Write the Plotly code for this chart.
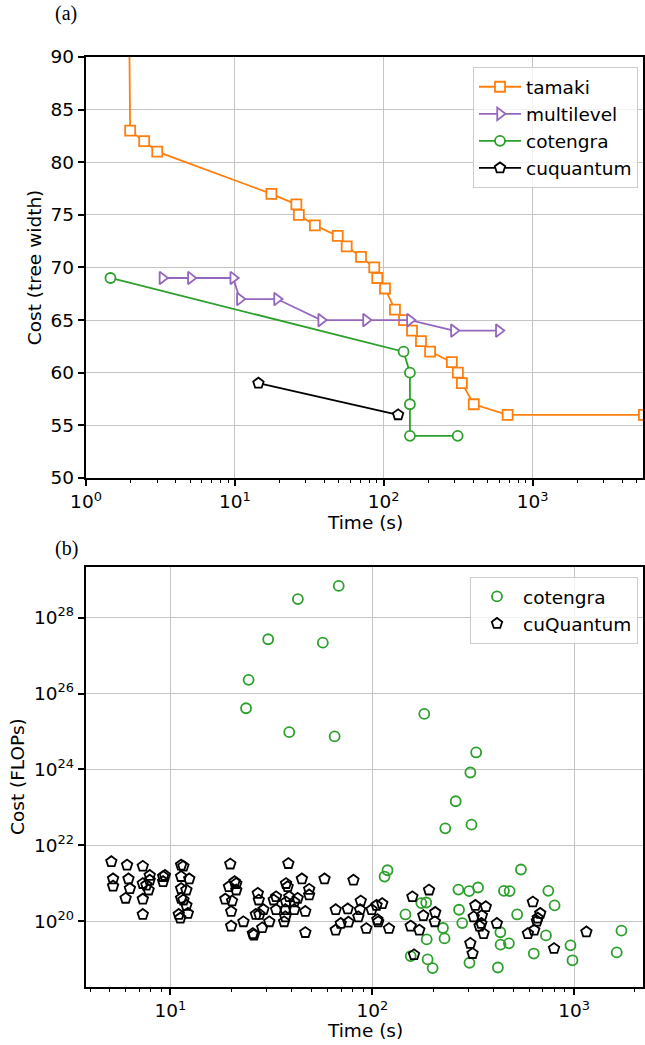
import plotly.graph_objects as go

# ---------------- (a) data ----------------
tamaki_t = [1.93, 1.98, 2.46, 3.01, 17.6, 25.9, 26.9, 34.5, 49.1, 56.4, 70.4, 86.4, 90.5, 102, 119,
            137, 155, 178, 205, 287, 315, 335, 403, 680, 5600]
tamaki_c = [100, 83, 82, 81, 77, 76, 75, 74, 73, 72, 71, 70, 69, 68, 66,
            65, 64, 63, 62, 61, 60, 59, 57, 56, 56]
multi_t = [3.26, 5.06, 9.75, 10.8, 19.2, 38, 76, 150, 296, 593]
multi_c = [69, 69, 69, 67, 67, 65, 65, 65, 64, 64]
cot_t = [1.46, 136, 150, 150, 150, 314]
cot_c = [69, 62, 60, 57, 54, 54]
cuq_t = [14.4, 125]
cuq_c = [59, 56]

# ---------------- (b) data ----------------
cotb_t = [68.2, 42.8, 30.5, 56.9, 24.4, 23.7, 38.8, 65.1, 181, 327, 306, 259, 230, 310,
          115, 119, 545, 267, 302, 334, 449, 479, 745, 800, 175, 185, 269, 146, 522, 279,
          224, 228, 186, 431, 432, 475, 725, 959, 981, 631, 419, 303, 199, 188, 155, 1715, 1625]
cotb_f = [6.9e28, 3.1e28, 2.7e27, 2.2e27, 2.3e26, 4.1e25, 9.6e24, 7.4e24, 2.9e25, 2.8e24, 8.3e23,
          1.45e23, 2.8e22, 3.5e22, 1.5e21, 2.2e21, 2.3e21, 6.8e20, 6.2e20, 7.7e20, 6.3e20, 6.2e20,
          6.3e20, 2.6e20, 3.0e20, 3.1e20, 2.0e20, 1.5e20, 1.5e20, 8.9e19, 6.6e19, 3.5e19, 3.3e19,
          5.1e19, 2.4e19, 2.6e19, 4.2e19, 2.3e19, 9.3e18, 1.4e19, 6.0e18, 8.0e18, 5.8e18, 9.8e18,
          1.2e19, 5.6e19, 1.5e19]
cuqb_t = [5.1, 6.1, 7.3, 5.2, 6.2, 5.2, 6.3, 6.0, 7.3, 7.9, 7.9, 7.6, 7.8, 7.3, 7.3, 9.2, 9.4, 9.2,
          11.3, 11.6, 11.3, 12.4, 11.3, 12.0, 11.3, 11.6, 12.0, 11.0, 12.2, 11.2,
          19.8, 19.5, 20.8, 21.2, 21.2, 18.7, 20.2, 20.0, 20.0, 23.0, 25.9, 25.6, 27.1, 27.4,
          26.5, 27.6, 28.9, 28.5, 30.9, 32.5, 33.4, 33.4, 36.6, 37.1, 37.1, 37.4, 38.4, 38.1,
          37.4, 38.8, 41.1, 41.1, 42.7, 44.8, 46.6, 46.6, 48.7, 48.7, 58.0, 80.7, 65.9, 75.6,
          87.7, 87.0, 85.3, 76.2, 69.8, 65.9, 93.5, 99.3,
          105, 107, 106, 112, 121, 158, 191, 179, 155, 171, 205, 204, 161, 324, 365, 318, 349,
          347, 340, 356, 414, 306, 314, 624, 679, 660, 654, 634, 590, 795, 1150]
cuqb_f = [3.7e21, 3.0e21, 2.8e21, 1.3e21, 1.3e21, 8.4e20, 7.2e20, 4.0e20, 9.8e20, 1.6e21, 1.2e21,
          8.9e20, 6.6e20, 3.8e20, 1.5e20, 1.5e21, 1.6e21, 1.1e21,
          3.0e21, 2.8e21, 1.5e21, 1.3e21, 7.2e20, 6.6e20, 4.0e20, 3.6e20, 2.6e20, 1.5e20, 1.6e20,
          1.2e20,
          3.2e21, 8.1e20, 1.1e21, 9.8e20, 6.6e20, 3.8e20, 3.4e20, 1.8e20, 7.4e19, 9.6e19, 4.3e19,
          4.7e19, 5.4e20, 3.6e20, 1.5e20, 1.5e20, 2.0e20, 6.7e19, 9.6e19, 3.6e20, 4.4e20, 2.0e20,
          9.6e19, 1.3e20, 2.0e20, 3.2e20, 3.3e21, 8.1e20, 9.8e20, 4.4e20, 3.2e20, 2.0e20, 4.0e20,
          1.3e21, 1.8e20, 5.0e19, 6.9e20, 4.9e20, 1.3e21, 1.2e21, 2.0e20, 2.1e20, 3.4e20, 2.0e20,
          1.3e20, 9.4e19, 8.7e19, 5.8e19, 6.4e19, 2.0e20,
          2.6e20, 9.6e19, 1.1e20, 2.9e20, 6.4e19, 4.4e20, 6.6e20, 1.4e20, 7.4e19, 5.8e19, 1.7e20,
          9.6e19, 1.3e19, 2.6e20, 2.4e20, 1.3e20, 1.4e20, 8.7e19, 7.4e19, 4.7e19, 8.7e19, 2.6e19,
          1.4e19, 3.2e20, 1.6e20, 1.2e20, 1.0e20, 5.8e19, 4.7e19, 1.9e19, 5.2e19]

top_xticks = [1, 10, 100, 1000]
top_xtext = ["10<sup>0</sup>", "10<sup>1</sup>", "10<sup>2</sup>", "10<sup>3</sup>"]
top_yticks = [50, 55, 60, 65, 70, 75, 80, 85, 90]
bot_xticks = [10, 100, 1000]
bot_xtext = ["10<sup>1</sup>", "10<sup>2</sup>", "10<sup>3</sup>"]
bot_yticks = [1e20, 1e22, 1e24, 1e26, 1e28]
bot_ytext = ["10<sup>20</sup>", "10<sup>22</sup>", "10<sup>24</sup>", "10<sup>26</sup>", "10<sup>28</sup>"]

ORANGE = "#ff7f0e"
PURPLE = "#9467bd"
GREEN = "#2ca02c"
FONT = "DejaVu Sans"
FS = 18.5
LW = 1.8

fig = go.Figure()

def top_trace(t, c, name, color, symbol, size):
    fig.add_trace(go.Scatter(
        x=t, y=c, name=name, mode="lines+markers", xaxis="x", yaxis="y", legend="legend",
        line=dict(color=color, width=LW),
        marker=dict(symbol=symbol, size=size, color="white", line=dict(color=color, width=1.8)),
    ))

top_trace(tamaki_t, tamaki_c, "tamaki", ORANGE, "square", 10)
top_trace(multi_t, multi_c, "multilevel", PURPLE, "triangle-right", 11)
top_trace(cot_t, cot_c, "cotengra", GREEN, "circle", 10)
top_trace(cuq_t, cuq_c, "cuquantum", "black", "pentagon", 11)

fig.add_trace(go.Scatter(
    x=cotb_t, y=cotb_f, name="cotengra", mode="markers", xaxis="x2", yaxis="y2", legend="legend2",
    marker=dict(symbol="circle-open", size=10, color=GREEN, line=dict(color=GREEN, width=1.8)),
))
fig.add_trace(go.Scatter(
    x=cuqb_t, y=cuqb_f, name="cuQuantum", mode="markers", xaxis="x2", yaxis="y2", legend="legend2",
    marker=dict(symbol="pentagon-open", size=11, color="black", line=dict(color="black", width=1.8)),
))

top_minor = [m * 10 ** e for e in range(0, 4) for m in range(2, 10)]
bot_minor = [m * 10 ** e for e in range(0, 4) for m in range(2, 10)]

axis_common = dict(
    showline=True, linecolor="black", linewidth=1.5, mirror=True,
    showgrid=True, gridcolor="#c4c4c4", gridwidth=1.4, zeroline=False,
    ticks="outside", ticklen=6.5, tickwidth=1.5, tickcolor="black",
    tickfont=dict(family=FONT, size=FS, color="black"),
)

fig.update_layout(
    width=645, height=1045,
    margin=dict(l=86, r=0, t=57, b=58),
    plot_bgcolor="white", paper_bgcolor="white",
    font=dict(family=FONT, size=FS, color="black"),
    showlegend=True,
    xaxis=dict(type="log", range=[0, 3.742], anchor="y", domain=[0, 1],
               tickmode="array", tickvals=top_xticks, ticktext=top_xtext,
               minor=dict(tickmode="array", tickvals=top_minor, ticks="outside", ticklen=3.7,
                          tickwidth=1.2, tickcolor="black", showgrid=False),
               **axis_common),
    yaxis=dict(range=[50, 90], anchor="x", domain=[0.5474, 1],
               tickmode="array", tickvals=top_yticks, **axis_common),
    xaxis2=dict(type="log", range=[0.582, 3.341], anchor="y2", domain=[0, 1],
                tickmode="array", tickvals=bot_xticks, ticktext=bot_xtext,
                minor=dict(tickmode="array", tickvals=bot_minor, ticks="outside", ticklen=3.7,
                           tickwidth=1.2, tickcolor="black", showgrid=False),
                **axis_common),
    yaxis2=dict(type="log", range=[18.264, 29.346], anchor="x2", domain=[0, 0.452],
                tickmode="array", tickvals=bot_yticks, ticktext=bot_ytext, **axis_common),
    legend=dict(x=0.991, y=0.989, xanchor="right", yanchor="top", itemwidth=42,
                bgcolor="rgba(255,255,255,0.8)", bordercolor="#cccccc", borderwidth=1,
                font=dict(family=FONT, size=FS, color="black")),
    legend2=dict(x=0.991, y=0.441, xanchor="right", yanchor="top", itemwidth=42,
                 bgcolor="rgba(255,255,255,0.8)", bordercolor="#cccccc", borderwidth=1,
                 font=dict(family=FONT, size=FS, color="black")),
)

def ann(text, x, y, **kw):
    fig.add_annotation(text=text, xref="paper", yref="paper", x=x, y=y,
                       showarrow=False, xanchor="center", yanchor="middle", **kw)

ann("(a)", -0.0358, 1.0473, font=dict(family="Liberation Serif", size=20, color="black"))
ann("(b)", -0.0358, 0.472, font=dict(family="Liberation Serif", size=20, color="black"))
ann("Cost (tree width)", -0.0912, 0.7742, textangle=-90, font=dict(family=FONT, size=FS, color="black"))
ann("Time (s)", 0.5, 0.5, font=dict(family=FONT, size=FS, color="black"))
ann("Cost (FLOPs)", -0.1234, 0.2261, textangle=-90, font=dict(family=FONT, size=FS, color="black"))
ann("Time (s)", 0.5, -0.047, font=dict(family=FONT, size=FS, color="black"))

post = ("document.body.style.margin='0';document.body.style.padding='0';"
        "document.body.style.overflow='hidden';"
        "document.documentElement.style.overflow='hidden';")
fig.write_html("out.html", post_script=post, config={"displayModeBar": False})
